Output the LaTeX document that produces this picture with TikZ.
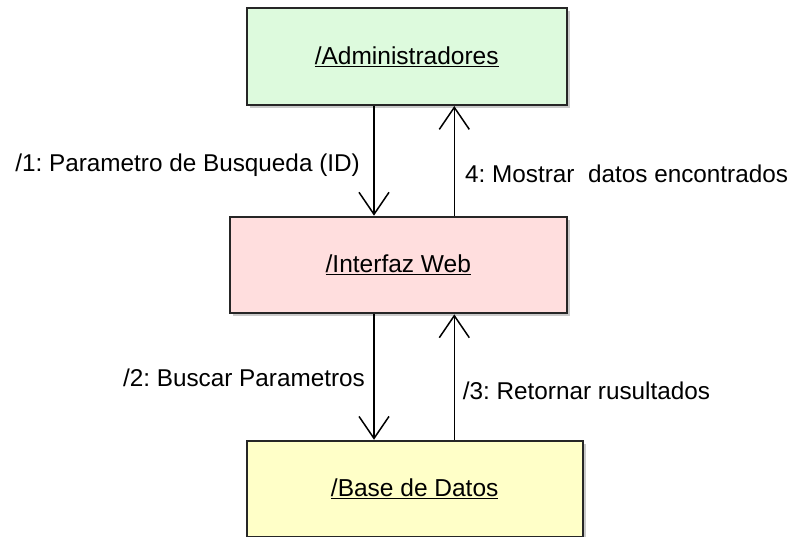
\documentclass[tikz,border=0pt]{standalone}
\usepackage{fontspec}
\setmainfont{Liberation Sans}
\usetikzlibrary{arrows.meta,shadows}
\definecolor{admfill}{RGB}{221,250,221}
\definecolor{webfill}{RGB}{255,222,222}
\definecolor{dbfill}{RGB}{255,255,200}
\frenchspacing
\begin{document}
\begin{tikzpicture}[x=1pt,y=-1pt,
  objbox/.style={draw=black!85, line width=2pt, minimum height=96.7pt, inner sep=0pt,
     font=\fontsize{24.5}{28}\selectfont,
     drop shadow={shadow xshift=3pt, shadow yshift=-3pt, opacity=0.35, fill=black!60}},
  msg/.style={font=\fontsize{24.3}{28}\selectfont, inner sep=0pt},
  arr/.style={line width=1.5pt, -{Straight Barb[length=22pt,width=30pt,line width=1.5pt]}}]
\useasboundingbox (0,0) rectangle (792,537);
\node[objbox, fill=admfill, minimum width=320pt] (adm) at (406.7,56.7) {\underline{/Administradores}};
\node[objbox, fill=webfill, minimum width=336.7pt] (web) at (398.3,265) {\underline{/Interfaz Web}};
\node[objbox, fill=dbfill, minimum width=336pt] (db) at (414.7,489.1) {\underline{/Base de Datos}};
\coordinate (lx) at (374,0);
\coordinate (rx) at (454.3,0);
\draw[arr] (adm.south -| lx) -- (web.north -| lx);
\draw[arr] (web.north -| rx) -- (adm.south -| rx);
\draw[arr] (web.south -| lx) -- (db.north -| lx);
\draw[arr] (db.north -| rx) -- (web.south -| rx);
\node[msg, anchor=base east] (m1) at (360,171.7) {/1: Parametro de Busqueda (ID)};
\node[msg, anchor=base west] (m4) at (465,183) {4: Mostrar\ \ datos encontrados};
\node[msg, anchor=base east] (m2) at (365,386.7) {/2: Buscar Parametros};
\node[msg, anchor=base west] (m3) at (462.7,399.3) {/3: Retornar rusultados};
\end{tikzpicture}
\end{document}
